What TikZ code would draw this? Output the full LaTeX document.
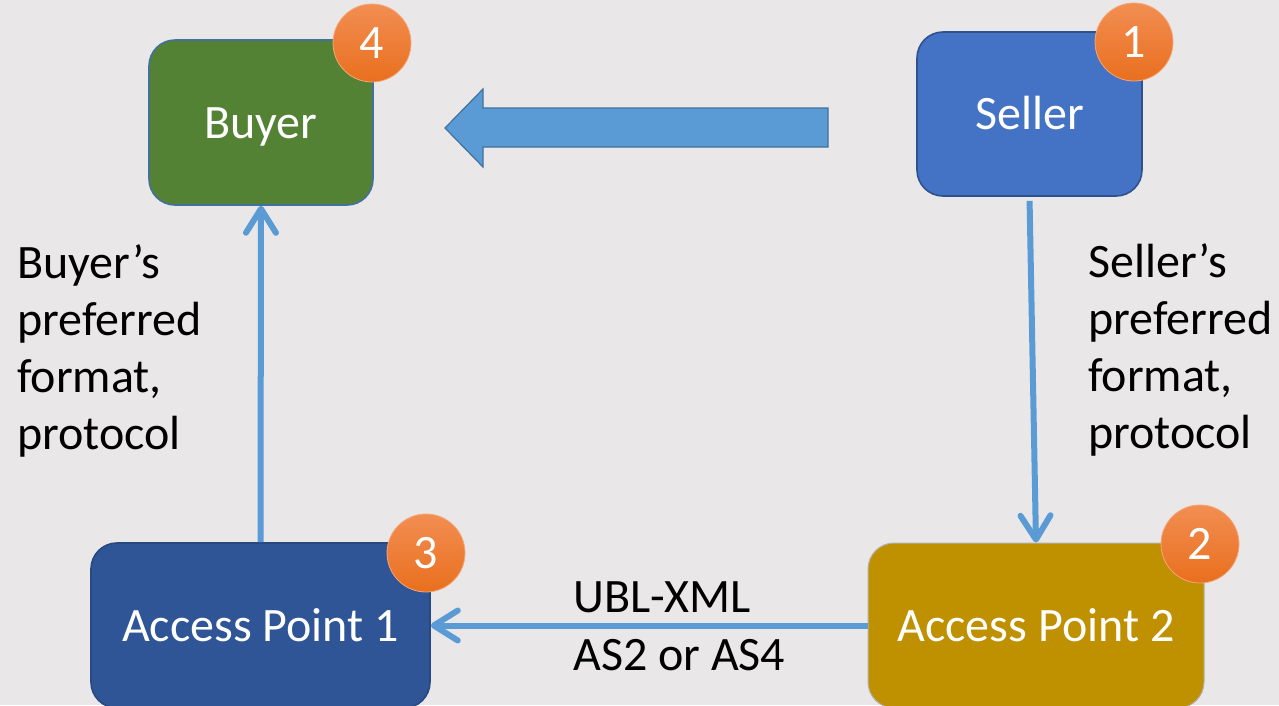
\documentclass[tikz,border=0pt]{standalone}
\usepackage{fontspec}
\setmainfont{Carlito}
\usetikzlibrary{arrows.meta}

\definecolor{canvas}{HTML}{E9E7E8}
\definecolor{flowblue}{HTML}{5B9BD5}
\definecolor{flowedge}{HTML}{41719C}
\definecolor{buyergreen}{HTML}{548235}
\definecolor{sellerblue}{HTML}{4472C4}
\definecolor{selleredge}{HTML}{2F528F}
\definecolor{apblue}{HTML}{2F5597}
\definecolor{apgold}{HTML}{BF9000}
\definecolor{badgetop}{HTML}{F28E52}
\definecolor{badgebot}{HTML}{E96F1E}
\definecolor{badgeedge}{HTML}{F5A677}

\begin{document}
\begin{tikzpicture}[x=1pt,y=-1pt,
  every node/.style={font=\fontsize{48pt}{57pt}\selectfont},
  party/.style={rectangle, rounded corners=26pt, line width=1.6pt,
    text=white, inner sep=0pt, text height=31pt, text depth=0pt},
  badge/.style={circle, minimum size=78pt, inner sep=0pt, text=white,
    top color=badgetop, bottom color=badgebot, draw=badgeedge, line width=0.8pt,
    text height=31pt, text depth=0pt},
  flow/.style={draw=flowblue, line width=6pt,
    -{Straight Barb[length=24pt, width=30pt, round]}},
  note/.style={align=left, inner sep=0pt, anchor=base west, text=black}
]
% canvas and fixed frame
\fill[canvas] (0,0) rectangle (1279,705);
\useasboundingbox (0,0) rectangle (1279,705);

\begin{scope}
\clip (0,0) rectangle (1279,705);

% parties
\node[party, fill=buyergreen, draw=flowedge, minimum width=224pt, minimum height=165pt]
  (buyer) at (261,122.5) {Buyer};
\node[party, fill=sellerblue, draw=selleredge, minimum width=225pt, minimum height=164pt]
  (seller) at (1029.5,114) {Seller};
\node[party, fill=apblue, draw=apblue!85!black, minimum width=339pt, minimum height=165pt]
  (ap1) at (260.5,625.5) {Access Point 1};
\node[party, fill=apgold, draw=black!30, line width=1pt, minimum width=336pt, minimum height=165pt]
  (ap2) at (1036,625.5) {Access Point 2};

% step badges
\node[badge] (b4) at (372,43) {4};
\node[badge] (b1) at (1134,42) {1};
\node[badge] (b3) at (426,553) {3};
\node[badge] (b2) at (1200,544) {2};

% connectors
\draw[flow, shorten <=4pt] (seller.south) -- (ap2.north);
\draw[flow] (ap2.west) -- (ap1.east);
\draw[flow] (ap1.north) -- (buyer.south);

% block arrow from seller side towards buyer
\filldraw[fill=flowblue, draw=flowedge, line width=1.2pt, line join=miter]
  (828,108) -- (483,108) -- (483,89) -- (445,128) -- (483,167) -- (483,147) -- (828,147) -- cycle;

% labels (base anchor sits on the last line)
\node[note] (buyerfmt) at (17,449) {Buyer’s\\preferred\\format,\\protocol};
\node[note] (sellerfmt) at (1088,448) {Seller’s\\preferred\\format,\\protocol};
\node[note] (transport) at (573,670) {UBL-XML\\[1pt]AS2 or AS4};
\end{scope}
\end{tikzpicture}
\end{document}
